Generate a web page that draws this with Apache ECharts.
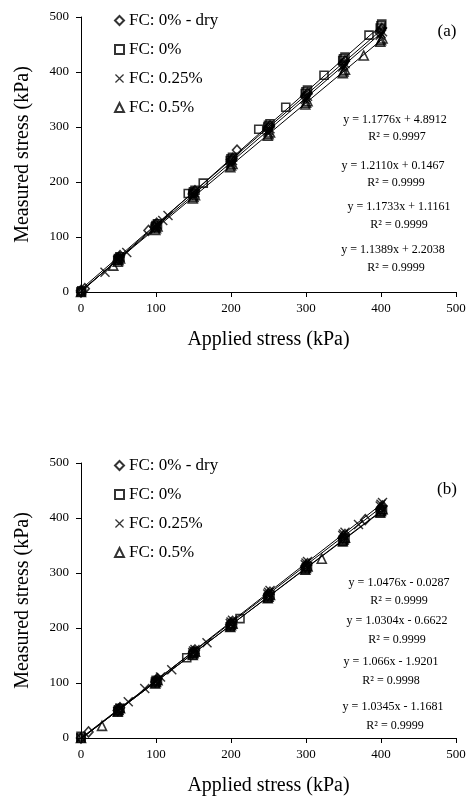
<!DOCTYPE html>
<html>
<head>
<meta charset="utf-8">
<script src="https://cdn.jsdelivr.net/npm/echarts@6/dist/echarts.min.js"></script>
<style>
html,body{margin:0;padding:0;background:#fff;}
#chart{width:473px;height:797px;}
</style>
</head>
<body>
<div id="chart"></div>
<script>
// ---------- DATA ----------
const seriesNames = ['FC: 0% - dry', 'FC: 0%', 'FC: 0.25%', 'FC: 0.5%'];
const axisTicks = [0, 100, 200, 300, 400, 500];

// Panel (a)
const a_dry = [[0,0],[0,3],[5,6],[50,60],[51,63],[52,66],[90,112],[98,118],[100,122],[101,125],[149,178],[150,181],[152,184],[200,237],[201,240],[202,243],[208,258],[249,296],[250,299],[252,302],[299,355],[300,358],[302,361],[349,414],[350,417],[352,420],[398,472],[400,476],[401,479]];
const a_fc0 = [[0,0],[1,2],[49,58],[50,61],[52,64],[99,118],[100,121],[102,124],[143,179],[149,179],[150,182],[152,185],[163,198],[199,239],[200,242],[202,245],[237,296],[249,300],[250,303],[252,306],[273,336],[299,361],[300,364],[302,367],[324,394],[349,421],[350,424],[352,427],[384,467],[399,480],[400,484],[401,487]];
const a_fc025 = [[0,0],[32,36],[49,57],[50,60],[52,63],[61,72],[99,116],[100,119],[102,122],[109,130],[116,139],[149,174],[150,177],[152,180],[199,233],[200,236],[202,239],[249,291],[250,294],[252,297],[299,350],[300,353],[302,356],[349,409],[350,412],[352,415],[399,467],[400,470],[402,473]];
const a_fc05 = [[0,0],[43,48],[49,55],[50,58],[52,61],[99,113],[100,116],[102,119],[149,170],[150,173],[152,176],[199,227],[200,230],[202,233],[249,284],[250,287],[252,290],[299,341],[300,344],[302,347],[349,398],[350,401],[352,404],[377,430],[399,455],[400,458],[402,461]];
const a_slopes = [1.1776, 1.2110, 1.1733, 1.1389];
const a_intercepts = [4.8912, 0.1467, 1.1161, 2.2038];
const a_eqs = ['y = 1.1776x + 4.8912', 'y = 1.2110x + 0.1467', 'y = 1.1733x + 1.1161', 'y = 1.1389x + 2.2038'];
const a_r2 = ['R² = 0.9997', 'R² = 0.9999', 'R² = 0.9999', 'R² = 0.9999'];

// Panel (b)
const b_dry = [[0,0],[10,11],[49,50],[50,52],[52,55],[99,102],[100,105],[102,108],[149,154],[150,157],[152,160],[199,206],[200,209],[202,212],[249,259],[250,262],[252,265],[299,311],[300,314],[302,317],[349,364],[350,367],[352,370],[379,397],[399,416],[400,419],[402,422]];
const b_fc0 = [[0,0],[0,3],[49,48],[50,51],[52,54],[99,99],[100,102],[102,105],[141,146],[149,151],[150,154],[152,157],[199,202],[200,205],[202,208],[212,217],[249,254],[250,257],[252,260],[299,306],[300,309],[302,312],[349,357],[350,360],[352,363],[399,409],[400,412],[402,415]];
const b_fc025 = [[0,0],[49,48],[50,51],[52,54],[63,66],[85,90],[99,102],[100,105],[106,111],[121,124],[149,155],[150,158],[152,161],[168,173],[199,208],[200,211],[202,214],[249,262],[250,265],[252,268],[299,315],[300,318],[302,321],[349,368],[350,371],[352,374],[370,388],[399,422],[400,425],[402,428]];
const b_fc05 = [[0,0],[28,22],[49,48],[50,51],[52,54],[99,99],[100,102],[102,105],[149,151],[150,154],[152,157],[199,202],[200,205],[202,208],[249,254],[250,257],[252,260],[299,306],[300,309],[302,312],[321,326],[349,358],[350,361],[352,364],[399,410],[400,413],[402,416]];
const b_slopes = [1.0476, 1.0304, 1.066, 1.0345];
const b_intercepts = [-0.0287, -0.6622, -1.9201, -1.1681];
const b_eqs = ['y = 1.0476x - 0.0287', 'y = 1.0304x - 0.6622', 'y = 1.066x - 1.9201', 'y = 1.0345x - 1.1681'];
const b_r2 = ['R² = 0.9999', 'R² = 0.9999', 'R² = 0.9998', 'R² = 0.9999'];

const trendRange = [0, 400];

// ---------- STYLE ----------
const FONT = 'Liberation Serif';
const crossPath = 'path://M0,1L1,0L5,4L9,0L10,1L6,5L10,9L9,10L5,6L1,10L0,9L4,5Z';
const symbols = ['diamond', 'rect', crossPath, 'triangle'];
const symSizes = [[9,10], 8, 10, 9];

function markerStyle(i) {
  if (i === 2) return { color: '#000', borderWidth: 0 };
  return { color: 'rgba(0,0,0,0)', borderColor: '#000', borderWidth: 1.6 };
}

function scatterSeries(name, data, idx, si) {
  return {
    type: 'scatter', name: name, data: data,
    xAxisIndex: idx, yAxisIndex: idx,
    symbol: symbols[si], symbolSize: symSizes[si],
    itemStyle: markerStyle(si), z: 5, silent: true
  };
}
function trendSeries(m, b, idx, k) {
  return {
    type: 'line', name: 'trend' + idx + '_' + k,
    data: trendRange.map(x => [x, m * x + b]),
    xAxisIndex: idx, yAxisIndex: idx,
    symbol: 'none', lineStyle: { color: '#000', width: 1 }, z: 3, silent: true
  };
}

function xAxis(gi) {
  return {
    type: 'value', gridIndex: gi, min: 0, max: 500, interval: 100,
    name: 'Applied stress (kPa)', nameLocation: 'middle', nameGap: 38,
    nameTextStyle: { fontFamily: FONT, fontSize: 20, color: '#000' },
    axisLine: { lineStyle: { color: '#000', width: 1 } },
    axisTick: { show: true, inside: false, length: 5, lineStyle: { color: '#000' } },
    axisLabel: { fontFamily: FONT, fontSize: 13, color: '#000', margin: 10 },
    splitLine: { show: false }
  };
}
function yAxis(gi) {
  return {
    type: 'value', gridIndex: gi, min: 0, max: 500, interval: 100,
    name: 'Measured stress (kPa)', nameLocation: 'middle', nameGap: 48,
    nameTextStyle: { fontFamily: FONT, fontSize: 20, color: '#000' },
    axisLine: { show: true, lineStyle: { color: '#000', width: 1 } },
    axisTick: { show: true, inside: false, length: 5, lineStyle: { color: '#000' } },
    axisLabel: { fontFamily: FONT, fontSize: 13, color: '#000', margin: 12 },
    splitLine: { show: false }
  };
}

const aData = [a_dry, a_fc0, a_fc025, a_fc05];
const bData = [b_dry, b_fc0, b_fc025, b_fc05];
const series = [];
for (let k = 0; k < 4; k++) series.push(trendSeries(a_slopes[k], a_intercepts[k], 0, k));
for (let k = 0; k < 4; k++) series.push(trendSeries(b_slopes[k], b_intercepts[k], 1, k));
for (let k = 0; k < 4; k++) series.push(scatterSeries(seriesNames[k], aData[k], 0, k));
for (let k = 0; k < 4; k++) series.push(scatterSeries(seriesNames[k], bData[k], 1, k));

// equation text positions
const aEqPos = [[395,120,397,137],[393,166,396,183],[399,207,399,225],[393,250,396,268]];
const bEqPos = [[399,583,399,601],[397,621,397,640],[391,662,391,681],[393,707,395,726]];
const graphics = [];
function addEq(eqs, r2, pos) {
  for (let k = 0; k < 4; k++) {
    graphics.push({ type: 'text', x: pos[k][0], y: pos[k][1], silent: true,
      style: { text: eqs[k], textAlign: 'center', textVerticalAlign: 'middle', font: '12px "' + FONT + '"', fill: '#000' } });
    graphics.push({ type: 'text', x: pos[k][2], y: pos[k][3], silent: true,
      style: { text: r2[k], textAlign: 'center', textVerticalAlign: 'middle', font: '12px "' + FONT + '"', fill: '#000' } });
  }
}
addEq(a_eqs, a_r2, aEqPos);
addEq(b_eqs, b_r2, bEqPos);
graphics.push({ type: 'text', x: 447, y: 32, silent: true,
  style: { text: '(a)', textAlign: 'center', textVerticalAlign: 'middle', font: '17px "' + FONT + '"', fill: '#000' } });
graphics.push({ type: 'text', x: 447, y: 490, silent: true,
  style: { text: '(b)', textAlign: 'center', textVerticalAlign: 'middle', font: '17px "' + FONT + '"', fill: '#000' } });

function legend(top) {
  return {
    data: seriesNames, orient: 'vertical', left: 114, top: top, padding: 0,
    itemWidth: 9, itemHeight: 9, itemGap: 12, selectedMode: false,
    textStyle: { fontFamily: FONT, fontSize: 17, color: '#000' }
  };
}

const chart = echarts.init(document.getElementById('chart'), null, { renderer: 'canvas' });
chart.setOption({
  backgroundColor: '#fff',
  animation: false,
  grid: [
    { left: 81, top: 17, width: 375, height: 275 },
    { left: 81, top: 463, width: 375, height: 275 }
  ],
  xAxis: [xAxis(0), xAxis(1)],
  yAxis: [yAxis(0), yAxis(1)],
  legend: [legend(12), legend(457)],
  graphic: graphics,
  series: series
});
</script>
</body>
</html>
